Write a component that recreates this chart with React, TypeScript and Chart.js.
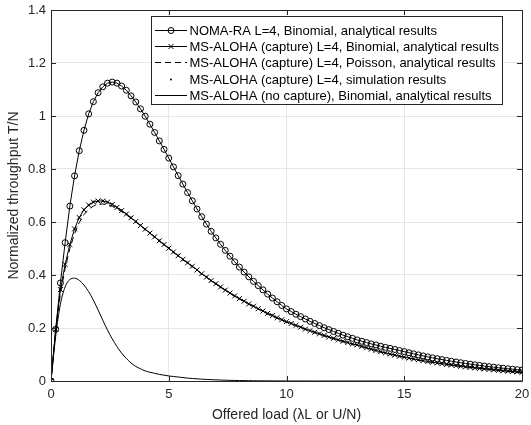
import React, { useEffect, useRef } from 'react';
import { Chart, registerables } from 'chart.js';

Chart.register(...registerables);

// Offered load samples (λL or U/N)
const offeredLoad = [
  0, 0.2, 0.4, 0.6, 0.8, 1, 1.2, 1.4, 1.6, 1.8, 2, 2.2, 2.4, 2.6, 2.8, 3, 3.2, 3.4, 3.6, 3.8,
  4, 4.2, 4.4, 4.6, 4.8, 5, 5.2, 5.4, 5.6, 5.8, 6, 6.2, 6.4, 6.6, 6.8, 7, 7.2, 7.4, 7.6, 7.8,
  8, 8.2, 8.4, 8.6, 8.8, 9, 9.2, 9.4, 9.6, 9.8, 10, 10.2, 10.4, 10.6, 10.8, 11, 11.2, 11.4, 11.6, 11.8,
  12, 12.2, 12.4, 12.6, 12.8, 13, 13.2, 13.4, 13.6, 13.8, 14, 14.2, 14.4, 14.6, 14.8, 15, 15.2, 15.4, 15.6, 15.8,
  16, 16.2, 16.4, 16.6, 16.8, 17, 17.2, 17.4, 17.6, 17.8, 18, 18.2, 18.4, 18.6, 18.8, 19, 19.2, 19.4, 19.6, 19.8,
  20,
];

// NOMA-RA L=4, Binomial, analytical
const nomaBinomial = [
  0, 0.195, 0.37, 0.522, 0.66, 0.774, 0.869, 0.946, 1.008, 1.054, 1.088, 1.11, 1.124, 1.128, 1.124, 1.113, 1.097, 1.076, 1.053, 1.027,
  0.999, 0.969, 0.938, 0.906, 0.874, 0.841, 0.808, 0.775, 0.743, 0.711, 0.68, 0.649, 0.62, 0.592, 0.565, 0.54, 0.516, 0.493, 0.471, 0.45,
  0.43, 0.411, 0.393, 0.376, 0.36, 0.344, 0.328, 0.313, 0.299, 0.285, 0.272, 0.262, 0.252, 0.243, 0.234, 0.225, 0.217, 0.209, 0.201, 0.194,
  0.187, 0.18, 0.173, 0.167, 0.161, 0.155, 0.15, 0.145, 0.14, 0.136, 0.131, 0.127, 0.123, 0.119, 0.115, 0.111, 0.1067, 0.1025, 0.0985, 0.0947,
  0.091, 0.0874, 0.084, 0.0808, 0.0776, 0.0746, 0.0717, 0.0689, 0.0662, 0.0636, 0.0611, 0.0587, 0.0564, 0.0542, 0.0521, 0.0501, 0.0481, 0.0463, 0.0445, 0.0427,
  0.0411,
];

// MS-ALOHA (capture) L=4, Binomial, analytical
const msAlohaBinomial = [
  0, 0.195, 0.345, 0.44, 0.515, 0.574, 0.617, 0.646, 0.664, 0.675, 0.679, 0.679, 0.675, 0.666, 0.655, 0.643, 0.63, 0.616, 0.602, 0.587,
  0.573, 0.558, 0.544, 0.529, 0.515, 0.501, 0.487, 0.473, 0.459, 0.446, 0.433, 0.419, 0.405, 0.392, 0.379, 0.367, 0.355, 0.343, 0.332, 0.321,
  0.311, 0.301, 0.291, 0.282, 0.273, 0.264, 0.255, 0.247, 0.239, 0.231, 0.224, 0.217, 0.21, 0.203, 0.196, 0.19, 0.184, 0.178, 0.172, 0.166,
  0.161, 0.155, 0.15, 0.145, 0.14, 0.136, 0.1305, 0.1252, 0.1201, 0.1152, 0.1106, 0.1061, 0.1018, 0.0977, 0.0937, 0.09, 0.0865, 0.0831, 0.0798, 0.0767,
  0.0737, 0.0708, 0.068, 0.0653, 0.0627, 0.0603, 0.0579, 0.0556, 0.0534, 0.0513, 0.0493, 0.0474, 0.0455, 0.0437, 0.042, 0.0403, 0.0388, 0.0372, 0.0358, 0.0344,
  0.033,
];

// MS-ALOHA (capture) L=4, Poisson, analytical
const msAlohaPoisson = [
  0, 0.19, 0.33, 0.425, 0.5, 0.556, 0.598, 0.628, 0.648, 0.66, 0.666, 0.668, 0.665, 0.659, 0.65, 0.639, 0.627, 0.614, 0.6, 0.586,
  0.572, 0.557, 0.543, 0.528, 0.514, 0.5, 0.486, 0.472, 0.458, 0.445, 0.432, 0.418, 0.404, 0.391, 0.378, 0.366, 0.354, 0.342, 0.331, 0.32,
  0.31, 0.3, 0.29, 0.281, 0.272, 0.263, 0.254, 0.246, 0.238, 0.23, 0.223, 0.216, 0.209, 0.202, 0.195, 0.189, 0.183, 0.177, 0.171, 0.165,
  0.16, 0.154, 0.149, 0.144, 0.139, 0.135, 0.13, 0.1247, 0.1196, 0.1147, 0.1101, 0.1056, 0.1013, 0.0972, 0.0932, 0.0895, 0.086, 0.0826, 0.0793, 0.0762,
  0.0732, 0.0703, 0.0675, 0.0648, 0.0622, 0.0598, 0.0574, 0.0551, 0.0529, 0.0508, 0.0488, 0.0469, 0.045, 0.0432, 0.0415, 0.0398, 0.0383, 0.0367, 0.0353, 0.0339,
  0.0325,
];

// MS-ALOHA (capture) L=4, simulation
const msAlohaSimulation = [
  0, 0.196, 0.344, 0.441, 0.514, 0.575, 0.616, 0.647, 0.663, 0.676, 0.678, 0.68, 0.674, 0.667, 0.654, 0.644, 0.629, 0.617, 0.601, 0.588,
  0.572, 0.559, 0.543, 0.53, 0.514, 0.502, 0.486, 0.474, 0.458, 0.447, 0.432, 0.42, 0.404, 0.393, 0.378, 0.368, 0.354, 0.344, 0.331, 0.322,
  0.31, 0.302, 0.29, 0.283, 0.272, 0.265, 0.254, 0.248, 0.238, 0.232, 0.223, 0.218, 0.209, 0.204, 0.195, 0.191, 0.183, 0.179, 0.171, 0.167,
  0.16, 0.156, 0.149, 0.146, 0.139, 0.137, 0.13, 0.126, 0.12, 0.116, 0.11, 0.107, 0.101, 0.098, 0.093, 0.091, 0.086, 0.084, 0.079, 0.077,
  0.073, 0.071, 0.068, 0.066, 0.062, 0.061, 0.058, 0.056, 0.053, 0.052, 0.049, 0.048, 0.045, 0.044, 0.042, 0.041, 0.038, 0.037, 0.035, 0.035,
  0.033,
];

// MS-ALOHA (no capture), Binomial, analytical
const msAlohaNoCapture = [
  0, 0.17, 0.29, 0.355, 0.383, 0.388, 0.38, 0.362, 0.337, 0.305, 0.268, 0.229, 0.192, 0.159, 0.13, 0.105, 0.085, 0.068, 0.055, 0.046,
  0.038, 0.033, 0.029, 0.025, 0.022, 0.019, 0.017, 0.015, 0.013, 0.011, 0.0095, 0.0082, 0.007, 0.006, 0.0051, 0.0043, 0.0036, 0.003, 0.0025, 0.0021,
  0.0017, 0.0014, 0.0011, 0.0009, 0.0007, 0.0006, 0.0005, 0.0004, 0.0003, 0.0002, 0.0002, 0.0001, 0.0001, 0.0001, 0.0001, 0, 0, 0, 0, 0,
  0, 0, 0, 0, 0, 0, 0, 0, 0, 0, 0, 0, 0, 0, 0, 0, 0, 0, 0, 0,
  0, 0, 0, 0, 0, 0, 0, 0, 0, 0, 0, 0, 0, 0, 0, 0, 0, 0, 0, 0,
  0,
];

const seriesLabels = [
  'NOMA-RA L=4, Binomial, analytical results',
  'MS-ALOHA (capture) L=4, Binomial, analytical results',
  'MS-ALOHA (capture) L=4, Poisson, analytical results',
  'MS-ALOHA (capture) L=4, simulation results',
  'MS-ALOHA (no capture), Binomial, analytical results',
];

const xTickValues = [0, 5, 10, 15, 20];
const xTickLabels = ['0', '5', '10', '15', '20'];
const yTickValues = [0, 0.2, 0.4, 0.6, 0.8, 1, 1.2, 1.4];
const yTickLabels = ['0', '0.2', '0.4', '0.6', '0.8', '1', '1.2', '1.4'];

const xTitle = 'Offered load (\u03bbL or U/N)';
const yTitle = 'Normalized throughput T/N';

const FONT = "'Liberation Sans', Arial, Helvetica, sans-serif";
const AXIS_COLOR = '#262626';

const toPoints = (ys: number[]) => offeredLoad.map((x, i) => ({ x, y: ys[i] }));

const labelFor = (values: number[], labels: string[], v: number) => {
  const i = values.findIndex((t) => Math.abs(t - v) < 1e-6);
  return i >= 0 ? labels[i] : '';
};

const boxAndLegendPlugin = {
  id: 'boxAndLegend',
  afterDatasetsDraw(chart: any) {
    const { ctx, chartArea } = chart;
    const { left, right, top, bottom } = chartArea;
    const xs = chart.scales.x;
    const ys = chart.scales.y;
    ctx.save();
    ctx.strokeStyle = AXIS_COLOR;
    ctx.lineWidth = 1;
    ctx.beginPath();
    ctx.rect(Math.round(left) + 0.5, Math.round(top) + 0.5, Math.round(right - left), Math.round(bottom - top));
    ctx.stroke();
    const tl = 5;
    ctx.beginPath();
    xTickValues.forEach((v) => {
      const px = Math.round(xs.getPixelForValue(v)) + 0.5;
      ctx.moveTo(px, bottom);
      ctx.lineTo(px, bottom - tl);
      ctx.moveTo(px, top);
      ctx.lineTo(px, top + tl);
    });
    yTickValues.forEach((v) => {
      const py = Math.round(ys.getPixelForValue(v)) + 0.5;
      ctx.moveTo(left, py);
      ctx.lineTo(left + tl, py);
      ctx.moveTo(right, py);
      ctx.lineTo(right - tl, py);
    });
    ctx.stroke();
    ctx.restore();
  },
  afterDraw(chart: any) {
    const { ctx } = chart;
    const bx = 151.5;
    const by = 16.5;
    const bw = 351;
    const bh = 88;
    ctx.save();
    ctx.fillStyle = '#ffffff';
    ctx.fillRect(bx, by, bw, bh);
    ctx.strokeStyle = AXIS_COLOR;
    ctx.lineWidth = 1;
    ctx.strokeRect(bx, by, bw, bh);
    ctx.font = `13px ${FONT}`;
    ctx.textBaseline = 'middle';
    ctx.textAlign = 'left';
    const x0 = 155;
    const x1 = 187;
    const xm = 171;
    chart.data.datasets.forEach((ds: any, i: number) => {
      const y = Math.round(29.5 + i * 16.4) + 0.5;
      ctx.strokeStyle = '#000';
      ctx.fillStyle = '#000';
      ctx.lineWidth = 1;
      if (ds.showLine !== false) {
        ctx.setLineDash(ds.borderDash || []);
        ctx.beginPath();
        ctx.moveTo(x0, y);
        ctx.lineTo(x1, y);
        ctx.stroke();
        ctx.setLineDash([]);
      }
      if (ds.pointRadius > 0) {
        const r = ds.pointRadius;
        if (ds.pointStyle === 'circle' && ds.showLine !== false) {
          ctx.beginPath();
          ctx.arc(xm, y, r, 0, Math.PI * 2);
          ctx.stroke();
        } else if (ds.pointStyle === 'crossRot') {
          const d = r * Math.SQRT1_2;
          ctx.beginPath();
          ctx.moveTo(xm - d, y - d);
          ctx.lineTo(xm + d, y + d);
          ctx.moveTo(xm + d, y - d);
          ctx.lineTo(xm - d, y + d);
          ctx.stroke();
        } else {
          ctx.beginPath();
          ctx.arc(xm, y, r, 0, Math.PI * 2);
          ctx.fill();
        }
      }
      ctx.fillStyle = '#000';
      ctx.fillText(ds.label, 189.5, y + 0.5);
    });
    ctx.restore();
  },
};

export default function App() {
  const canvasRef = useRef<HTMLCanvasElement | null>(null);

  useEffect(() => {
    document.body.style.margin = '0';
    const canvas = canvasRef.current;
    if (!canvas) return;
    const chart = new Chart(canvas, {
      type: 'line',
      data: {
        datasets: [
          {
            label: seriesLabels[0],
            data: toPoints(nomaBinomial),
            borderColor: '#000',
            borderWidth: 1,
            pointStyle: 'circle',
            pointRadius: 3,
            pointBorderWidth: 1,
            pointBorderColor: '#000',
            pointBackgroundColor: 'rgba(0,0,0,0)',
            showLine: true,
          },
          {
            label: seriesLabels[1],
            data: toPoints(msAlohaBinomial),
            borderColor: '#000',
            borderWidth: 1,
            pointStyle: 'crossRot',
            pointRadius: 3.5,
            pointBorderWidth: 1,
            pointBorderColor: '#000',
            showLine: true,
          },
          {
            label: seriesLabels[2],
            data: toPoints(msAlohaPoisson),
            borderColor: '#000',
            borderWidth: 1,
            borderDash: [6, 4],
            pointRadius: 0,
            showLine: true,
          },
          {
            label: seriesLabels[3],
            data: toPoints(msAlohaSimulation),
            borderColor: '#000',
            pointStyle: 'circle',
            pointRadius: 1,
            pointBorderWidth: 0,
            pointBackgroundColor: '#000',
            showLine: false,
          },
          {
            label: seriesLabels[4],
            data: toPoints(msAlohaNoCapture),
            borderColor: '#000',
            borderWidth: 1,
            pointRadius: 0,
            cubicInterpolationMode: 'monotone',
            showLine: true,
          },
        ],
      },
      options: {
        responsive: false,
        animation: false,
        layout: { padding: { top: 10, right: 9, left: 0, bottom: 0 } },
        plugins: {
          legend: { display: false },
          tooltip: { enabled: false },
        },
        scales: {
          x: {
            type: 'linear',
            min: 0,
            max: 20,
            afterFit: (s: any) => {
              s.height = 44;
              s.paddingLeft = 0;
              s.paddingRight = 0;
            },
            afterBuildTicks: (s: any) => {
              s.ticks = xTickValues.map((v) => ({ value: v }));
            },
            ticks: {
              color: AXIS_COLOR,
              font: { family: FONT, size: 13 },
              padding: 6,
              maxRotation: 0,
              callback: (v: any) => labelFor(xTickValues, xTickLabels, Number(v)),
            },
            grid: { color: '#e6e6e6', lineWidth: 1, drawTicks: false },
            border: { display: false },
            title: {
              display: true,
              text: xTitle,
              color: AXIS_COLOR,
              font: { family: FONT, size: 14 },
              padding: { top: 0, bottom: 1 },
            },
          },
          y: {
            type: 'linear',
            min: 0,
            max: 1.4,
            afterFit: (s: any) => {
              s.width = 51;
              s.paddingTop = 0;
              s.paddingBottom = 0;
            },
            afterBuildTicks: (s: any) => {
              s.ticks = yTickValues.map((v) => ({ value: v }));
            },
            ticks: {
              color: AXIS_COLOR,
              font: { family: FONT, size: 13 },
              padding: 5,
              callback: (v: any) => labelFor(yTickValues, yTickLabels, Number(v)),
            },
            grid: { color: '#e6e6e6', lineWidth: 1, drawTicks: false },
            border: { display: false },
            title: {
              display: true,
              text: yTitle,
              color: AXIS_COLOR,
              font: { family: FONT, size: 14 },
              padding: { top: 6, bottom: 0 },
            },
          },
        },
      },
      plugins: [boxAndLegendPlugin],
    } as any);
    return () => chart.destroy();
  }, []);

  return (
    <div style={{ width: 531, height: 425, background: '#fff' }}>
      <canvas ref={canvasRef} width={531} height={425} style={{ display: 'block' }} />
    </div>
  );
}
